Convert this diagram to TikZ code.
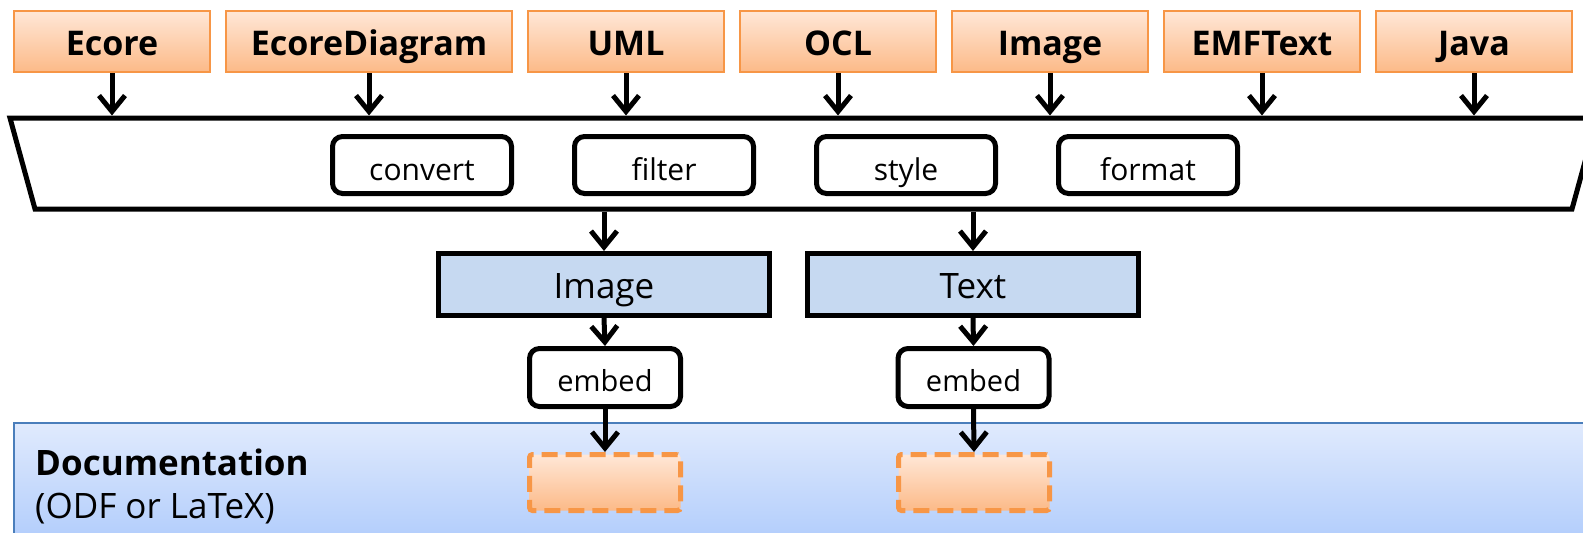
\documentclass[tikz,border=0pt]{standalone}
\usepackage{xcolor}
\usepackage{fontspec}
\setmainfont{Open Sans}
\usetikzlibrary{positioning,arrows.meta}

\definecolor{accorange}{HTML}{F79646}
\definecolor{peachtop}{HTML}{FFE7D7}
\definecolor{peachbot}{HTML}{FCBA88}
\definecolor{pale}{HTML}{C6D9F1}
\definecolor{docline}{HTML}{4A7EBB}
\definecolor{doctop}{HTML}{E0EAFD}
\definecolor{docbot}{HTML}{A5C5FB}

\tikzset{
  lang/.style={draw=accorange, line width=2pt, top color=peachtop, bottom color=peachbot,
    minimum width=196pt, minimum height=61pt, inner sep=0pt, text height=27pt, text depth=0pt,
    font=\fontsize{34}{40}\selectfont\bfseries},
  op/.style={draw, line width=5pt, rounded corners=10pt, fill=white,
    minimum width=179pt, minimum height=57pt, inner sep=0pt, text height=30pt, text depth=0pt,
    font=\fontsize{30}{36}\selectfont},
  result/.style={draw, line width=5pt, fill=pale, minimum width=331pt, minimum height=62pt,
    inner sep=0pt, text height=27pt, text depth=0pt, font=\fontsize{35}{42}\selectfont},
  slot/.style={draw=accorange, line width=5pt, dash pattern=on 16pt off 8pt, rounded corners=3pt,
    top color=peachtop, bottom color=peachbot, minimum width=151pt, minimum height=56pt},
  arr/.style={line width=5pt, -{Straight Barb[length=16pt,width=26pt]}}
}

\begin{document}
\begin{tikzpicture}[x=1pt,y=-1pt]
\useasboundingbox (0,0) rectangle (1583,533);
\clip (0,0) rectangle (1583,533);

% documentation area
\node [draw=docline, line width=2pt, top color=doctop, bottom color=docbot, anchor=north west,
  minimum width=1620pt, minimum height=150pt] at (13,422) (doc) {};
\node [anchor=base west, inner sep=0pt, font=\fontsize{35}{42}\selectfont\bfseries] at (35,475) (doctitle) {Documentation};
\node [anchor=base west, inner sep=0pt, font=\fontsize{35}{42}\selectfont] at (35,518) (docfmt) {(ODF or LaTeX)};

% input languages
\node [lang] at (112,41.5) (ecore) {Ecore};
\node [lang, minimum width=286pt, right=14pt of ecore] (ecorediag) {EcoreDiagram};
\node [lang, right=14pt of ecorediag] (uml) {UML};
\node [lang, right=14pt of uml] (ocl) {OCL};
\node [lang, right=14pt of ocl] (image) {Image};
\node [lang, right=14pt of image] (emftext) {EMFText};
\node [lang, right=14pt of emftext] (java) {Java};

% processing stage
\draw [line width=5pt, line join=miter] (10,118) -- (1597,118) -- (1572,209) -- (35,209) -- cycle;
\coordinate (trtop) at (0,115.5);
\coordinate (trbot) at (0,211.5);
\node [op] at (422,165) (convert) {convert};
\node [op, right=58pt of convert] (filter) {filter};
\node [op, right=58pt of filter] (style) {style};
\node [op, right=58pt of style] (format) {format};

\foreach \src in {ecore,ecorediag,uml,ocl,image,emftext,java}
  \draw [arr] (\src.south) -- (\src.south |- trtop);

% outputs
\node [result] at (604,284.5) (img) {Image};
\node [result, right=33pt of img] (txt) {Text};
\node [op, minimum width=151pt, minimum height=58pt, text height=27pt, font=\fontsize{29}{35}\selectfont] at (605,377.5) (embedimg) {embed};
\node [op, minimum width=151pt, minimum height=58pt, text height=27pt, font=\fontsize{29}{35}\selectfont] at (973.5,377.5) (embedtxt) {embed};
\node [slot] at (605,482.5) (slotimg) {};
\node [slot] at (974,482.5) (slottxt) {};

\draw [arr] (img.north |- trbot) -- (img.north);
\draw [arr] (txt.north |- trbot) -- (txt.north);
\draw [arr] (img.south) -- (embedimg.north);
\draw [arr] (txt.south) -- (embedtxt.north);
\draw [arr] (embedimg.south) -- (slotimg.north);
\draw [arr] (embedtxt.south) -- (slottxt.north);
\end{tikzpicture}
\end{document}
